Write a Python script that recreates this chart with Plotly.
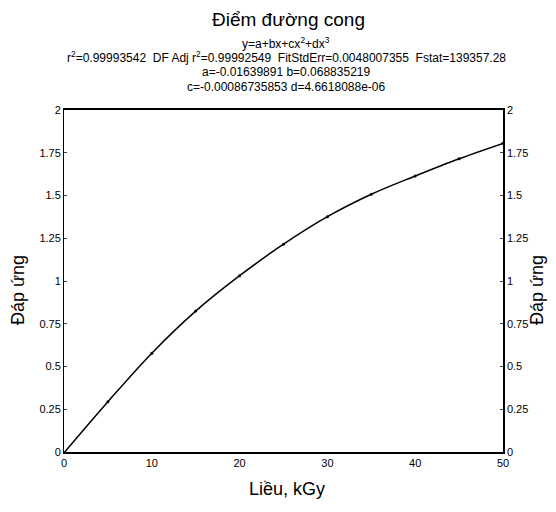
import plotly.graph_objects as go

dose = [0, 5, 10, 15, 20, 25, 30, 35, 40, 45, 50]
response = [-0.005, 0.294, 0.578, 0.824, 1.031, 1.215, 1.376, 1.507, 1.614, 1.715, 1.805]

y_ticks = [0, 0.25, 0.5, 0.75, 1, 1.25, 1.5, 1.75, 2]
y_labels = ["0", "0.25", "0.5", "0.75", "1", "1.25", "1.5", "1.75", "2"]
x_ticks = [0, 10, 20, 30, 40, 50]

title = "Điểm đường cong"
sub_lines = [
    "y=a+bx+cx<sup>2</sup>+dx<sup>3</sup>",
    "r<sup>2</sup>=0.99993542  DF Adj r<sup>2</sup>=0.99992549  FitStdErr=0.0048007355  Fstat=139357.28",
    "a=-0.01639891 b=0.068835219",
    "c=-0.00086735853 d=4.6618088e-06",
]

FONT = "Liberation Sans, Arial, sans-serif"

# figure is 540x496 (page adds an 8px body margin)
W, H = 540, 496
L, R, T, B = 56, 45, 102, 52
PW, PH = W - L - R, H - T - B


def px(x):
    return (x - L) / PW


def py(y):
    return (H - B - y) / PH


fig = go.Figure()
fig.add_trace(go.Scatter(
    x=dose, y=response, mode="lines+markers",
    line=dict(color="black", width=1.5, shape="spline"),
    marker=dict(color="black", size=3),
    showlegend=False, hoverinfo="skip"))
fig.add_trace(go.Scatter(
    x=dose, y=response, yaxis="y2", mode="lines", opacity=0,
    showlegend=False, hoverinfo="skip"))

fig.update_layout(
    width=W, height=H,
    margin=dict(l=L, r=R, t=T, b=B),
    paper_bgcolor="white", plot_bgcolor="white",
    font=dict(family=FONT, color="black", size=11),
    xaxis=dict(range=[0, 50], tickvals=x_ticks, showgrid=False, zeroline=False,
               showline=True, linecolor="black", linewidth=1.5, mirror=True,
               ticks="", tickfont=dict(size=11)),
    yaxis=dict(range=[0, 2], tickvals=y_ticks, ticktext=y_labels, showgrid=False,
               zeroline=False, showline=True, linecolor="black", linewidth=1,
               ticks="inside", ticklen=3, tickfont=dict(size=11)),
    yaxis2=dict(range=[0, 2], tickvals=y_ticks, ticktext=y_labels, showgrid=False,
                zeroline=False, showline=True, linecolor="black", linewidth=1.5,
                overlaying="y", side="right", anchor="x",
                ticks="inside", ticklen=3, tickfont=dict(size=11)),
)

fig.add_annotation(text=title, xref="paper", yref="paper", x=px(280), y=py(0),
                   showarrow=False, font=dict(family=FONT, size=19, color="black"),
                   xanchor="center", yanchor="top", borderpad=0)
for t, yy in zip(sub_lines, [35, 49, 64, 79]):
    fig.add_annotation(text=t, xref="paper", yref="paper", x=px(278), y=py(yy),
                       showarrow=False, font=dict(family=FONT, size=12, color="black"),
                       xanchor="center", yanchor="middle")

fig.add_annotation(text="Đáp ứng", xref="paper", yref="paper",
                   x=px(10), y=py(282), textangle=-90,
                   showarrow=False, font=dict(family=FONT, size=18, color="black"),
                   xanchor="center", yanchor="middle")
fig.add_annotation(text="Đáp ứng", xref="paper", yref="paper",
                   x=px(529), y=py(282), textangle=-90,
                   showarrow=False, font=dict(family=FONT, size=18, color="black"),
                   xanchor="center", yanchor="middle")
fig.add_annotation(text="Liều, kGy", xref="paper", yref="paper",
                   x=px(279), y=py(481),
                   showarrow=False, font=dict(family=FONT, size=18, color="black"),
                   xanchor="center", yanchor="middle")

fig.write_html("out.html")
